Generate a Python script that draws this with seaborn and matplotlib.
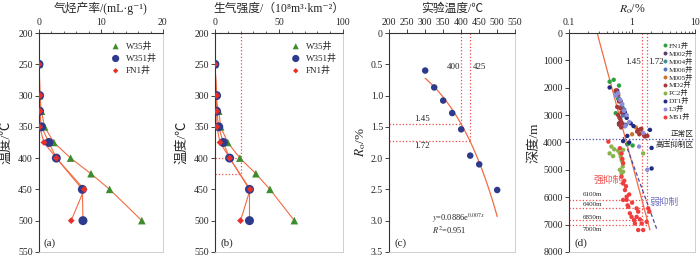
import numpy as np
import pandas as pd
import matplotlib
matplotlib.use("Agg")
import matplotlib.pyplot as plt
import seaborn as sns
from matplotlib.ticker import MultipleLocator, FixedLocator, LogLocator, NullFormatter, FuncFormatter

sns.set_style("ticks")
plt.rcParams['font.family'] = ['Liberation Serif', 'Noto Sans CJK SC', 'DejaVu Sans']
plt.rcParams['mathtext.fontset'] = 'stix'

# ---------------- data ----------------
temp = [250, 300, 325, 350, 375, 400, 425, 450, 500]
w35_yield = [0, 0.1, 0.4, 0.9, 2.4, 5.1, 8.4, 11.4, 16.6]
w35_gas = [0, 0, 3, 4.5, 10, 19.5, 32, 43, 62]

w351_temp = [250, 300, 325, 350, 375, 400, 450, 500]
w351_yield = [0, 0.1, 0.1, 0.4, 1.6, 2.8, 7.0, 7.1]
w351_gas = [0, 1.3, 1.3, 3, 6.5, 11.5, 27, 27]

fn1_temp = [250, 300, 325, 350, 375, 400, 450, 500]
fn1_yield = [0, 0.2, 0.2, 0.1, 0.8, 2.8, 7.3, 5.2]
fn1_gas = [0, 1.5, 1.5, 1.5, 4, 11.5, 27.5, 20]

c_temp = [300, 325, 350, 375, 400, 425, 450, 500]
c_ro = [0.60, 0.87, 1.08, 1.28, 1.54, 1.96, 2.10, 2.51]
fit_a, fit_b = 0.0886, 0.007

wells = ['FN1井', 'M002井', 'M004井', 'M006井', 'M005井', 'MD2井', 'PC2井', 'DT1井', 'L3井', 'MS1井']
d_ro = {
    'FN1井': [0.44, 0.51, 0.62, 0.55, 0.60, 1.02, 0.87, 0.58],
    'M002井': [0.58, 0.66, 0.72, 0.62],
    'M004井': [0.60, 0.70, 0.65],
    'M006井': [0.55, 0.62, 0.68, 0.75, 0.72, 0.80],
    'M005井': [1.15, 1.35, 1.00],
    'MD2井': [0.55, 0.60, 0.62, 0.58, 0.65, 0.68, 0.60, 0.63, 0.66, 0.70, 0.62, 0.67,
             1.20, 1.30, 1.45, 1.55, 1.60, 1.40, 1.75, 1.25],
    'PC2井': [0.47, 0.44, 0.50, 0.64, 0.72, 0.68, 0.71, 0.64, 0.72, 0.68, 0.66, 0.60,
             0.52, 1.50, 0.70],
    'DT1井': [0.44, 0.77, 0.82, 0.77, 0.95, 1.05, 0.84, 1.92, 2.04, 2.04, 0.72, 0.90],
    'L3井': [0.60, 0.65, 0.70, 0.82, 0.78, 0.90, 1.50, 1.29, 1.74, 0.75, 0.55],
    'MS1井': [0.42, 0.64, 0.68, 0.72, 0.68, 0.72, 0.77, 0.82, 0.82, 0.87, 0.72, 0.92,
             0.98, 1.07, 1.18, 1.25, 1.18, 1.33, 1.11, 1.25, 1.42, 1.70, 1.81, 1.88,
             1.50, 0.85, 0.90, 1.00, 0.80, 0.75, 0.70],
}
d_depth = {
    'FN1井': [1780, 1710, 1920, 2930, 2400, 4110, 4050, 2150],
    'M002井': [2100, 2500, 3000, 3300],
    'M004井': [2300, 2700, 3100],
    'M006井': [2150, 2400, 2650, 2800, 3000, 3350],
    'M005井': [3450, 3520, 3700],
    'MD2井': [2100, 2250, 2500, 2700, 2750, 2900, 3000, 3100, 3200, 3300, 3350, 3450,
             3600, 3700, 3650, 3720, 3780, 3500, 3760, 3550],
    'PC2井': [4150, 4400, 4500, 4400, 4270, 4640, 4880, 5000, 5070, 5130, 4520, 4300,
             4250, 4400, 4700],
    'DT1井': [1990, 2900, 3100, 3400, 3300, 3400, 3760, 3540, 4200, 4950, 3950, 4000],
    'L3井': [2200, 2450, 2600, 3000, 3400, 3250, 3650, 4150, 5000, 2850, 2300],
    'MS1井': [3970, 4210, 4400, 4760, 5250, 5500, 5740, 5980, 6100, 6350, 6100, 6590,
             6720, 6840, 6410, 6530, 6720, 6810, 6960, 7200, 6960, 6900, 6410, 6530,
             7200, 6300, 5900, 6200, 5600, 5400, 4600],
}
well_colors = ['#2e9e3e', '#5b3a6e', '#3d8f96', '#5577b8', '#c8742e',
               '#a83838', '#8ab34a', '#1f2a80', '#8e8ed8', '#f03c3c']
trend_ro = [0.279, 1.92]
trend_depth = [0, 7200]
weak_ro = [0.72, 2.45]
weak_depth = [3800, 7150]
cut_depths = [6100, 6400, 6850, 7000]
cut_labels = ['6100m', '6400m', '6850m', '7000m']
ro_marks = [1.45, 1.72]

# ---------------- style ----------------
LINE = '#f26b43'
GREEN = '#3d8c2e'
NAVY = '#2e3a8c'
RED = '#e8302a'
DOT = '#f04a4a'
fs_tick = 7
fs_lab = 8.5


def style_axes(ax):
    ax.xaxis.set_label_position('top')
    ax.xaxis.tick_top()
    for s in ['left', 'top']:
        ax.spines[s].set_color('#333333')
        ax.spines[s].set_linewidth(0.8)
    for s in ['right', 'bottom']:
        ax.spines[s].set_visible(True)
        ax.spines[s].set_color('#c8c8c8')
        ax.spines[s].set_linewidth(0.6)
    ax.tick_params(axis='both', which='major', labelsize=fs_tick, length=3, width=0.6,
                   direction='out', pad=1.5)
    ax.tick_params(axis='both', which='minor', length=1.8, width=0.5, direction='out')
    ax.tick_params(axis='x', which='both', top=True, bottom=False)
    ax.tick_params(axis='y', which='both', left=True, right=False)


fig = plt.figure(figsize=(7.0, 2.56), dpi=100)
bottom, height = 0.016, 0.855
axa = fig.add_axes([0.0557, bottom, 0.177, height])
axb = fig.add_axes([0.307, bottom, 0.183, height])
axc = fig.add_axes([0.556, bottom, 0.180, height])
axd = fig.add_axes([0.813, bottom, 0.180, height])


def well_panel(ax, w35, w351, fn1, xmax, xmajor, xminor, ylabel_text, xlabel_text, letter):
    dfa = pd.DataFrame({'x': w35, 'T': temp})
    dfb = pd.DataFrame({'x': w351, 'T': w351_temp})
    dfc = pd.DataFrame({'x': fn1, 'T': fn1_temp})
    for df in (dfa, dfb, dfc):
        sns.lineplot(data=df, x='x', y='T', sort=False, estimator=None, ax=ax,
                     color=LINE, lw=0.8, zorder=2)
    sns.scatterplot(data=dfa, x='x', y='T', ax=ax, marker='^', s=30, color=GREEN,
                    edgecolor='none', zorder=3, label='W35井')
    sns.scatterplot(data=dfb, x='x', y='T', ax=ax, marker='o', s=42, color=NAVY,
                    edgecolor='none', zorder=4, label='W351井')
    sns.scatterplot(data=dfc, x='x', y='T', ax=ax, marker='D', s=12, color=RED,
                    edgecolor='none', zorder=5, label='FN1井')
    ax.set_xlim(0, xmax)
    ax.set_ylim(550, 200)
    ax.xaxis.set_major_locator(MultipleLocator(xmajor))
    ax.xaxis.set_minor_locator(MultipleLocator(xminor))
    ax.yaxis.set_major_locator(MultipleLocator(50))
    ax.set_xlabel(xlabel_text, fontsize=fs_lab, labelpad=4)
    ax.set_ylabel(ylabel_text, fontsize=fs_lab + 1, labelpad=4)
    ax.legend(loc='upper right', frameon=False, fontsize=6.5, handletextpad=0.1,
              borderaxespad=0.3, labelspacing=0.35, markerscale=0.8,
              bbox_to_anchor=(1.0, 0.99))
    ax.text(0.04, 0.02, letter, transform=ax.transAxes, fontsize=8, ha='left', va='bottom')
    style_axes(ax)


well_panel(axa, w35_yield, w351_yield, fn1_yield, 20, 10, 2,
           '温度/℃', '气烃产率/(mL·g⁻¹)', '(a)')
well_panel(axb, w35_gas, w351_gas, fn1_gas, 100, 50, 10,
           '温度/℃', '生气强度/（10⁸m³·km⁻²）', '(b)')
# dotted guides in (b)
axb.plot([20, 20], [200, 425], ls=':', color=DOT, lw=0.9, zorder=1)
axb.plot([0, 20], [400, 400], ls=':', color=DOT, lw=0.9, zorder=1)
axb.plot([0, 20], [425, 425], ls=':', color=DOT, lw=0.9, zorder=1)

# ---------------- panel (c) ----------------
dfc_pts = pd.DataFrame({'T': c_temp, 'Ro': c_ro})
fit_T = np.linspace(min(c_temp), max(c_temp), 100)
dfc_fit = pd.DataFrame({'T': fit_T, 'Ro': fit_a * np.exp(fit_b * fit_T)})
sns.lineplot(data=dfc_fit, x='T', y='Ro', ax=axc, color=LINE, lw=0.9, zorder=2)
sns.scatterplot(data=dfc_pts, x='T', y='Ro', ax=axc, color=NAVY, s=22,
                edgecolor='none', zorder=3)
for t, r in zip([400, 425], [1.45, 1.72]):
    axc.plot([t, t], [0, r], ls=':', color=DOT, lw=0.9, zorder=1)
    axc.plot([200, t], [r, r], ls=':', color=DOT, lw=0.9, zorder=1)
axc.text(378, 0.55, '400', fontsize=6.5, ha='center', va='center')
axc.text(452, 0.55, '425', fontsize=6.5, ha='center', va='center')
axc.text(290, 1.37, '1.45', fontsize=6.5, ha='center', va='center')
axc.text(290, 1.80, '1.72', fontsize=6.5, ha='center', va='center')
axc.text(318, 2.96, r'$y$=0.0886e$^{0.007x}$', fontsize=6, ha='left', va='center')
axc.text(318, 3.15, r'$R^{2}$=0.951', fontsize=6, ha='left', va='center')
axc.text(0.04, 0.02, '(c)', transform=axc.transAxes, fontsize=8, ha='left', va='bottom')
axc.set_xlim(200, 550)
axc.set_ylim(3.5, 0)
axc.xaxis.set_major_locator(MultipleLocator(50))
axc.yaxis.set_major_locator(MultipleLocator(0.5))
axc.yaxis.set_major_formatter(FuncFormatter(lambda v, p: '0' if v == 0 else f'{v:.1f}'))
axc.set_xlabel('实验温度/℃', fontsize=fs_lab, labelpad=4)
axc.set_ylabel(r'$R_{\mathrm{o}}$/%', fontsize=fs_lab + 1, labelpad=2)
style_axes(axc)

# ---------------- panel (d) ----------------
rows = []
for w in wells:
    for r, d in zip(d_ro[w], d_depth[w]):
        rows.append({'well': w, 'Ro': r, 'depth': d})
dfd = pd.DataFrame(rows)
axd.set_xscale('log')
for r in ro_marks:
    axd.plot([r, r], [0, 7000], ls=':', color=DOT, lw=0.9, zorder=1)
for d in cut_depths:
    axd.plot([0.1, 1.72], [d, d], ls=':', color=DOT, lw=0.9, zorder=1)
axd.plot([0.1, 10], [3880, 3880], ls=':', color='#4a4aa0', lw=0.9, zorder=1)
sns.lineplot(x=trend_ro, y=trend_depth, ax=axd, color=LINE, lw=0.9, zorder=2)
sns.lineplot(x=weak_ro, y=weak_depth, ax=axd, color='#4a4aa0', lw=0.9,
             ls=(0, (3, 2)), zorder=2)
sns.scatterplot(data=dfd, x='Ro', y='depth', hue='well', hue_order=wells,
                palette=well_colors, s=10, edgecolor='none', ax=axd, zorder=3)
axd.set_xlim(0.1, 10)
axd.set_ylim(8000, 0)
axd.xaxis.set_major_locator(FixedLocator([0.1, 1, 10]))
axd.xaxis.set_major_formatter(FuncFormatter(lambda v, p: {0.1: '0.1', 1: '1', 10: '10'}.get(round(v, 1), '')))
axd.xaxis.set_minor_locator(LogLocator(base=10, subs=np.arange(2, 10)))
axd.xaxis.set_minor_formatter(NullFormatter())
axd.yaxis.set_major_locator(MultipleLocator(1000))
axd.set_xlabel(r'$R_{\mathrm{o}}$/%', fontsize=fs_lab, labelpad=4)
axd.set_ylabel('深度/m', fontsize=fs_lab + 1, labelpad=2)
axd.text(1.45 * 0.96, 1050, '1.45', fontsize=6.5, ha='right', va='center')
axd.text(1.72 * 1.05, 1050, '1.72', fontsize=6.5, ha='left', va='center')
axd.text(9.6, 3820, '正常区', fontsize=5.5, ha='right', va='bottom')
axd.text(9.6, 3950, '高压抑制区', fontsize=5.5, ha='right', va='top')
axd.text(0.42, 5370, '强抑制', fontsize=7, ha='center', va='center', color='#f05050')
axd.text(3.2, 6170, '弱抑制', fontsize=7, ha='center', va='center', color='#7070c0')
for d, lab, off in zip(cut_depths, cut_labels, [-210, -150, -110, 180]):
    axd.text(0.232, d + off, lab, fontsize=5, ha='center', va='center')
axd.text(0.04, 0.02, '(d)', transform=axd.transAxes, fontsize=8, ha='left', va='bottom')
axd.legend(loc='upper right', frameon=False, fontsize=5.2, handletextpad=0.0,
           borderaxespad=0.2, labelspacing=0.12, markerscale=0.9,
           bbox_to_anchor=(1.02, 0.98), handlelength=1.2)
style_axes(axd)

fig.savefig('out.png', dpi=100)
